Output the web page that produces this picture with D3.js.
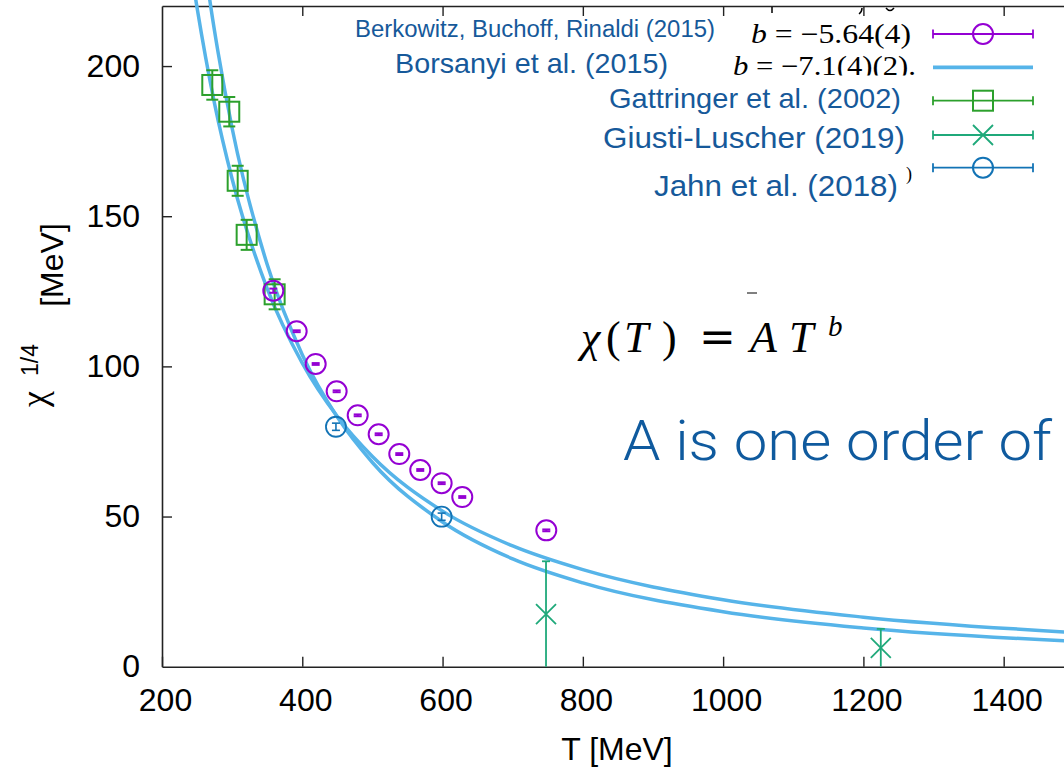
<!DOCTYPE html>
<html><head><meta charset="utf-8">
<script src="https://cdn.jsdelivr.net/npm/d3@7"></script>
<style>html,body{margin:0;padding:0;background:#fff;}svg{display:block;}</style>
</head><body><svg id="c" width="1064" height="770"></svg>
<script>
// ---- data ----
const xTicks = [200, 400, 600, 800, 1000, 1200, 1400];
const yTicks = [0, 50, 100, 150, 200];

const berkT   = [358.7, 392, 419.1, 449, 479, 508.9, 538.3, 568.2, 598.7, 628.1, 747.9];
const berkChi = [125.2, 111.7, 100.8, 91.7, 83.7, 77.4, 70.8, 65.5, 61.1, 56.5, 45.4];
const berkErr = [0.7, 0.3, 0.3, 0.3, 0.3, 0.3, 0.3, 0.3, 0.3, 0.3, 0.3];

const gattT   = [271.7, 295.9, 307.9, 320.7, 360.6];
const gattChi = [193.7, 184.8, 161.8, 143.8, 124.0];
const gattErr = [4.9, 4.9, 5.0, 5.0, 5.0];

const giustiT   = [747.5, 1224.8];
const giustiChi = [17.5, 6.3];
const giustiErr = [17.6, 6.3];

const jahnT   = [448, 598.7];
const jahnChi = [79.9, 49.95];
const jahnErr = [1.2, 1.2];

// Borsanyi et al. band edges
const borsAT   = [265, 270, 280, 300, 350, 400, 450, 500, 600, 700, 800, 1000, 1200, 1500];
const borsAChi = [227, 219, 204.5, 179.3, 133.9, 103.9, 83.1, 68.0, 48.2, 35.9, 27.9, 18.3, 12.9, 8.5];
const borsBT   = [245, 250, 275, 300, 350, 400, 450, 500, 600, 700, 800, 1000, 1200, 1500];
const borsBChi = [226.7, 219.4, 187.4, 162.4, 125.9, 101.1, 83.3, 70.0, 51.8, 40.2, 32.3, 22.3, 16.5, 11.4];

const legendLabels = ["Berkowitz, Buchoff, Rinaldi (2015)", "Borsanyi et al. (2015)", "Gattringer et al. (2002)", "Giusti-Luscher (2019)", "Jahn et al. (2018)"];
const legendMath = ["b = \u22125.64(4)", "b = \u22127.1(4)(2)."];

// ---- colours ----
const cPurple = "#9400d3", cGreen = "#2ca02c", cTeal = "#1fa97a", cBlue = "#1273b5", cLight = "#56b4e9";
const cText = "#16599a";

const svg = d3.select("#c");
const x = d3.scaleLinear().domain([200, 1486]).range([162, 1064]);
const y = d3.scaleLinear().domain([0, 220]).range([666.7, 6]);

const font = "'Liberation Sans', Arial, Helvetica, sans-serif";
const serif = "'Liberation Serif', 'DejaVu Serif', serif";

// ---- axes ----
const gx = svg.append("g").attr("transform", `translate(0,${y(0)})`)
  .call(d3.axisBottom(x).tickValues(xTicks).tickSizeInner(-10).tickSizeOuter(0).tickPadding(22).tickFormat(d3.format("d")));
gx.select(".domain").attr("stroke", "#222").attr("stroke-width", 1.6);
gx.selectAll(".tick line").attr("stroke", "#222").attr("stroke-width", 1.4);
gx.selectAll(".tick text").attr("font-family", font).attr("font-size", 32).attr("fill", "#000").attr("dx", 3);

const gxt = svg.append("g").attr("transform", `translate(0,${y(220)})`)
  .call(d3.axisTop(x).tickValues(xTicks.filter(d => d > 200)).tickSizeInner(-10).tickSizeOuter(0).tickFormat(""));
gxt.select(".domain").attr("stroke", "#222").attr("stroke-width", 1.6);
gxt.selectAll(".tick line").attr("stroke", "#222").attr("stroke-width", 1.4);

const gy = svg.append("g").attr("transform", `translate(${x(200)},0)`)
  .call(d3.axisLeft(y).tickValues(yTicks).tickSizeInner(-10).tickSizeOuter(0).tickPadding(22).tickFormat(d3.format("d")));
gy.select(".domain").attr("stroke", "#222").attr("stroke-width", 1.6);
gy.selectAll(".tick line").attr("stroke", "#222").attr("stroke-width", 1.4).filter(d => d === 0).remove();
gy.selectAll(".tick text").attr("font-family", font).attr("font-size", 32).attr("fill", "#000");

// axis titles
svg.append("text").attr("x", 617).attr("y", 760).attr("text-anchor", "middle")
  .attr("font-family", font).attr("font-size", 32).text("T [MeV]");
svg.append("text").attr("transform", "translate(63,265) rotate(-90)").attr("text-anchor", "middle")
  .attr("font-family", font).attr("font-size", 32).text("[MeV]");
svg.append("text").attr("transform", "translate(38,360) rotate(-90)").attr("text-anchor", "middle")
  .attr("font-family", font).attr("font-size", 23).text("1/4");
svg.append("text").attr("transform", "translate(46,399) rotate(-90)").attr("text-anchor", "middle")
  .attr("font-family", serif).attr("font-size", 36).text("\u03c7");

// ---- curves ----
const line = d3.line().x(d => x(d[0])).y(d => y(d[1])).curve(d3.curveMonotoneX);
[[borsAT, borsAChi], [borsBT, borsBChi]].forEach(([t, c]) => {
  svg.append("path").datum(t.map((v, i) => [v, c[i]])).attr("d", line)
    .attr("fill", "none").attr("stroke", cLight).attr("stroke-width", 3.5);
});

// ---- error bars & points ----
function errBars(T, C, E, color, cap, w) {
  const g = svg.append("g").attr("stroke", color).attr("stroke-width", w).attr("fill", "none");
  T.forEach((t, i) => {
    const px = x(t), lo = y(Math.max(0, C[i] - E[i])), hi = y(C[i] + E[i]);
    g.append("line").attr("x1", px).attr("x2", px).attr("y1", lo).attr("y2", hi);
    g.append("line").attr("x1", px - cap).attr("x2", px + cap).attr("y1", hi).attr("y2", hi);
    if (C[i] - E[i] > 0) g.append("line").attr("x1", px - cap).attr("x2", px + cap).attr("y1", lo).attr("y2", lo);
  });
}

// Gattringer squares
errBars(gattT, gattChi, gattErr, cGreen, 6, 2);
svg.append("g").selectAll("rect").data(gattT).join("rect")
  .attr("x", (d) => x(d) - 10).attr("y", (d, i) => y(gattChi[i]) - 10).attr("width", 20).attr("height", 20)
  .attr("fill", "none").attr("stroke", cGreen).attr("stroke-width", 2);

// Berkowitz circles
errBars(berkT, berkChi, berkErr, cPurple, 4, 2);
svg.append("g").selectAll("circle").data(berkT).join("circle")
  .attr("cx", d => x(d)).attr("cy", (d, i) => y(berkChi[i])).attr("r", 10)
  .attr("fill", "none").attr("stroke", cPurple).attr("stroke-width", 2);

// Jahn circles
errBars(jahnT, jahnChi, jahnErr, cBlue, 4, 1.6);
svg.append("g").selectAll("circle").data(jahnT).join("circle")
  .attr("cx", d => x(d)).attr("cy", (d, i) => y(jahnChi[i])).attr("r", 10)
  .attr("fill", "none").attr("stroke", cBlue).attr("stroke-width", 1.8);

// Giusti-Luscher crosses
errBars(giustiT, giustiChi, giustiErr, cTeal, 4, 1.8);
svg.append("g").selectAll("path").data(giustiT).join("path")
  .attr("d", (d, i) => { const px = x(d), py = y(giustiChi[i]); return `M${px-10},${py-10}L${px+10},${py+10}M${px-10},${py+10}L${px+10},${py-10}`; })
  .attr("stroke", cTeal).attr("stroke-width", 1.8).attr("fill", "none");

// ---- legend ----
const lx1 = 933, lx2 = 1033, lcx = 983;
const rowsY = [34, 67.3, 100.7, 135, 167.7];
const legColors = [cPurple, cLight, cGreen, cTeal, cBlue];
rowsY.forEach((ry, i) => {
  const g = svg.append("g");
  if (i === 1) {
    g.append("line").attr("x1", lx1).attr("x2", lx2).attr("y1", ry).attr("y2", ry)
      .attr("stroke", cLight).attr("stroke-width", 3.8);
    return;
  }
  g.append("line").attr("x1", lx1).attr("x2", lx2).attr("y1", ry).attr("y2", ry).attr("stroke", legColors[i]).attr("stroke-width", 1.8);
  [lx1, lx2].forEach(cx => g.append("line").attr("x1", cx).attr("x2", cx).attr("y1", ry - 4.5).attr("y2", ry + 4.5).attr("stroke", legColors[i]).attr("stroke-width", 1.8));
  if (i === 0 || i === 4) g.append("circle").attr("cx", lcx).attr("cy", ry).attr("r", 10).attr("fill", "none").attr("stroke", legColors[i]).attr("stroke-width", 2);
  if (i === 2) g.append("rect").attr("x", lcx - 10).attr("y", ry - 10).attr("width", 20).attr("height", 20).attr("fill", "none").attr("stroke", legColors[i]).attr("stroke-width", 2);
  if (i === 3) g.append("path").attr("d", `M${lcx-10},${ry-10}L${lcx+10},${ry+10}M${lcx-10},${ry+10}L${lcx+10},${ry-10}`).attr("stroke", legColors[i]).attr("stroke-width", 1.8);
});

// legend labels (slide overlay)
const labSpec = [
  {x: 355, y: 37, w: 360, fs: 23},
  {x: 395, y: 73, w: 273, fs: 28},
  {x: 609, y: 108, w: 292, fs: 28},
  {x: 603, y: 148, w: 302, fs: 30},
  {x: 654, y: 196, w: 244, fs: 29}
];
labSpec.forEach((s, i) => {
  svg.append("text").attr("x", s.x).attr("y", s.y).attr("font-family", font).attr("font-size", s.fs)
    .attr("fill", cText).attr("textLength", s.w).attr("lengthAdjust", "spacingAndGlyphs").text(legendLabels[i]);
});

// math legend texts
svg.append("defs").append("clipPath").attr("id", "clipB").append("rect").attr("x", 700).attr("y", 45).attr("width", 230).attr("height", 30.5);
function mathText(sel, str, xx, yy, w, fs) {
  const t = sel.append("text").attr("x", xx).attr("y", yy).attr("font-family", serif).attr("font-size", fs)
    .attr("fill", "#000").attr("textLength", w).attr("lengthAdjust", "spacingAndGlyphs");
  t.append("tspan").attr("font-style", "italic").text(str.slice(0, 1));
  t.append("tspan").text(str.slice(1));
}
mathText(svg, legendMath[0], 751, 43, 160, 27);
mathText(svg.append("g").attr("clip-path", "url(#clipB)"), legendMath[1], 733, 75, 183, 27);
svg.append("text").attr("x", 906).attr("y", 180).attr("font-family", serif).attr("font-size", 18).text(")");
// remnants of a clipped line at the very top
svg.append("line").attr("x1", 772).attr("x2", 772).attr("y1", 7).attr("y2", 13).attr("stroke", "#000").attr("stroke-width", 1.5);
svg.append("path").attr("d", "M862,8 Q862,12 859,14").attr("stroke", "#000").attr("stroke-width", 1.5).attr("fill", "none");
svg.append("path").attr("d", "M886,8 Q890,13 894,8").attr("stroke", "#000").attr("stroke-width", 1.5).attr("fill", "none");

// ---- formula and slide text ----
const fpieces = [
  {t: "\u03c7", x: 581, it: true},
  {t: "(", x: 606, it: false},
  {t: "T", x: 624, it: true},
  {t: ")", x: 662, it: false},
  {t: "=", x: 699, it: false, ff: "'DejaVu Serif', serif"},
  {t: "A", x: 750, it: true},
  {t: "T", x: 789, it: true}
];
const ft = svg.append("text").attr("y", 352).attr("font-family", serif).attr("font-size", 44).attr("fill", "#000");
fpieces.forEach(p => {
  const s = ft.append("tspan").attr("x", p.x).attr("y", 352).attr("font-style", p.it ? "italic" : "normal").text(p.t);
  if (p.ff) s.attr("font-family", p.ff);
});
ft.append("tspan").attr("x", 828).attr("y", 336).attr("font-style", "italic").attr("font-size", 29).text("b");
svg.append("line").attr("x1", 747).attr("x2", 757).attr("y1", 293).attr("y2", 293).attr("stroke", "#000").attr("stroke-width", 1);

svg.append("text").attr("x", 623).attr("y", 460).attr("font-family", "Roboto, 'Open Sans', sans-serif").attr("font-weight", 300)
  .attr("font-size", 56).attr("fill", "#0f5a9e").attr("textLength", 429).attr("lengthAdjust", "spacingAndGlyphs").text("A is one order of");
</script>
</body></html>
